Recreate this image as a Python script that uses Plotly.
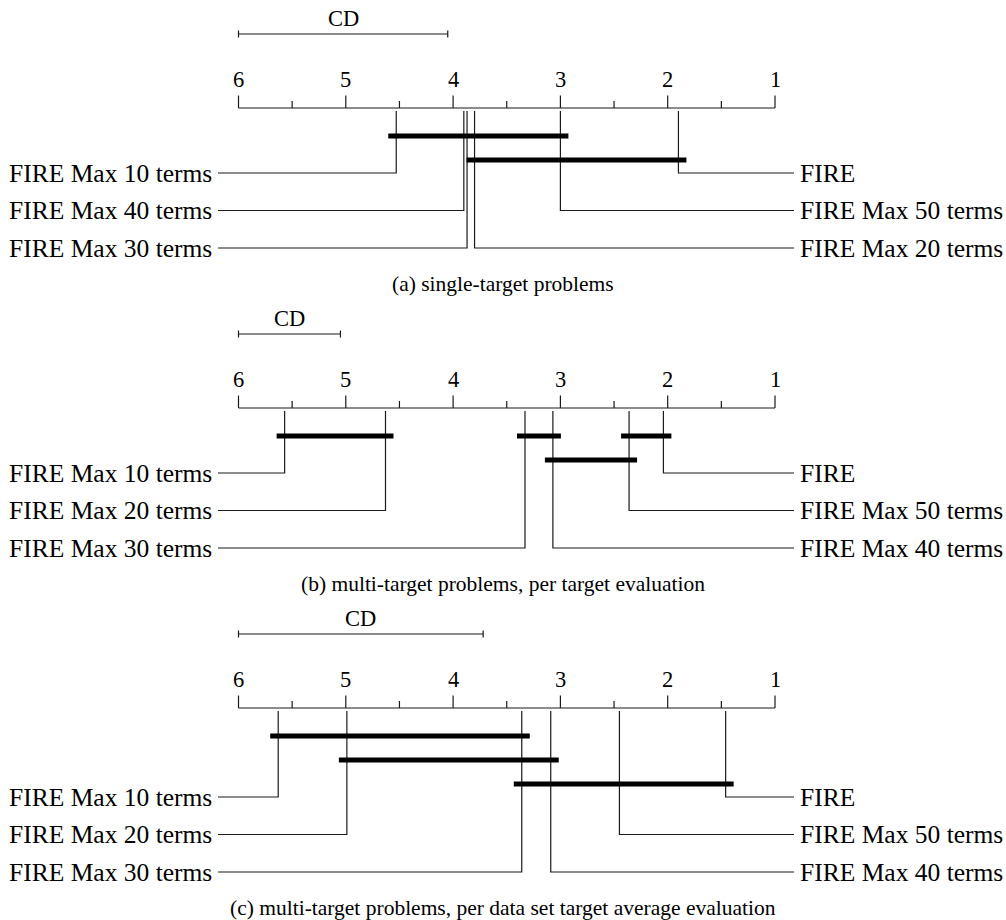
import plotly.graph_objects as go

# ---------------- data ----------------
methods_a = ["FIRE", "FIRE Max 50 terms", "FIRE Max 20 terms",
             "FIRE Max 30 terms", "FIRE Max 40 terms", "FIRE Max 10 terms"]
ranks_a = [1.90, 3.00, 3.80, 3.87, 3.90, 4.53]
cd_a = 1.95
cliques_a = [("FIRE Max 10 terms", "FIRE Max 50 terms"),
             ("FIRE Max 20 terms", "FIRE")]
caption_a = "(a) single-target problems"

methods_b = ["FIRE", "FIRE Max 50 terms", "FIRE Max 40 terms",
             "FIRE Max 30 terms", "FIRE Max 20 terms", "FIRE Max 10 terms"]
ranks_b = [2.04, 2.36, 3.07, 3.33, 4.63, 5.57]
cd_b = 0.95
cliques_b = [("FIRE Max 10 terms", "FIRE Max 20 terms"),
             ("FIRE Max 30 terms", "FIRE Max 40 terms"),
             ("FIRE Max 40 terms", "FIRE Max 50 terms"),
             ("FIRE Max 50 terms", "FIRE")]
caption_b = "(b) multi-target problems, per target evaluation"

methods_c = ["FIRE", "FIRE Max 50 terms", "FIRE Max 40 terms",
             "FIRE Max 30 terms", "FIRE Max 20 terms", "FIRE Max 10 terms"]
ranks_c = [1.46, 2.45, 3.09, 3.36, 4.99, 5.63]
cd_c = 2.28
cliques_c = [("FIRE Max 10 terms", "FIRE Max 30 terms"),
             ("FIRE Max 20 terms", "FIRE Max 40 terms"),
             ("FIRE Max 30 terms", "FIRE")]
caption_c = "(c) multi-target problems, per data set target average evaluation"

major_ticks = [6, 5, 4, 3, 2, 1]
minor_ticks = [5.5, 4.5, 3.5, 2.5, 1.5]

# ---------------- layout constants ----------------
W, H = 1006, 920
PX6 = 238.5          # pixel of rank 6
PPR = 107.3          # pixels per rank unit
X_LEFT = 6 + PX6 / PPR
X_RIGHT = 6 - (W - PX6) / PPR


def px2r(p):
    return 6 - (p - PX6) / PPR


EXT = 8 / PPR        # bar extension beyond end ranks
FONT = "Liberation Serif, Times New Roman, serif"
LABEL_SIZE = 25.5
TICK_SIZE = 22.5
CAP_SIZE = 21.5
LINE_COLOR = "#1a1a1a"

thin_x, thin_y = [], []
bar_x, bar_y = [], []
annotations = []


def add_thin(xs, ys):
    thin_x.extend(xs + [None])
    thin_y.extend(ys + [None])


def panel(T, methods, ranks, cd, cliques, caption):
    axis_y = T + 108
    # CD segment
    y_cd = T + 34
    add_thin([6, 6 - cd], [y_cd, y_cd])
    for e in (6, 6 - cd):
        add_thin([e, e], [y_cd - 3.5, y_cd + 3.5])
    annotations.append(dict(x=6 - cd / 2, y=T + 18, text="CD", showarrow=False,
                            xanchor="center", yanchor="middle",
                            font=dict(family=FONT, size=TICK_SIZE, color="black")))
    # axis
    add_thin([major_ticks[0], major_ticks[-1]], [axis_y, axis_y])
    for t in major_ticks:
        add_thin([t, t], [axis_y, axis_y - 12.5])
        annotations.append(dict(x=t, y=T + 79, text=str(t), showarrow=False,
                                xanchor="center", yanchor="middle",
                                font=dict(family=FONT, size=TICK_SIZE, color="black")))
    for t in minor_ticks:
        add_thin([t, t], [axis_y, axis_y - 7])

    # bars: assign rows greedily
    rank_of = dict(zip(methods, ranks))
    segs = sorted([(rank_of[a], rank_of[b]) for a, b in cliques], key=lambda s: -s[0])
    rows = []
    seg_rows = []
    for lo, hi in segs:
        placed = False
        for i, last in enumerate(rows):
            if hi < last - 1e-9 and lo < last - 1e-9:
                rows[i] = hi
                seg_rows.append(i)
                placed = True
                break
        if not placed:
            rows.append(hi)
            seg_rows.append(len(rows) - 1)
    bar_top = T + 136
    for (lo, hi), ri in zip(segs, seg_rows):
        yb = bar_top + 24 * ri
        bar_x.extend([lo + EXT, hi - EXT, None])
        bar_y.extend([yb, yb, None])
    last_bar = bar_top + 24 * (len(rows) - 1)

    # method labels
    order = sorted(zip(ranks, methods))          # best first
    n = len(order)
    half = n // 2
    right = order[:half]                         # best, top to bottom
    left = sorted(order[half:], key=lambda t: -t[0])  # worst on top
    y0 = last_bar + 13
    sp = 37.5
    for i, (r, m) in enumerate(left):
        yr = y0 + sp * i
        add_thin([r, r, px2r(218)], [axis_y + 3, yr, yr])
        annotations.append(dict(x=px2r(214), y=yr, text=m, showarrow=False,
                                xanchor="right", yanchor="middle",
                                font=dict(family=FONT, size=LABEL_SIZE, color="black")))
    for i, (r, m) in enumerate(right):
        yr = y0 + sp * i
        add_thin([r, r, px2r(794)], [axis_y + 3, yr, yr])
        annotations.append(dict(x=px2r(798), y=yr, text=m, showarrow=False,
                                xanchor="left", yanchor="middle",
                                font=dict(family=FONT, size=LABEL_SIZE, color="black")))
    cap_y = y0 + sp * (max(len(left), len(right)) - 1) + 36
    annotations.append(dict(x=0.5, xref="paper", y=cap_y, text=caption, showarrow=False,
                            xanchor="center", yanchor="middle",
                            font=dict(family=FONT, size=CAP_SIZE, color="black")))


panel(0, methods_a, ranks_a, cd_a, cliques_a, caption_a)
panel(300, methods_b, ranks_b, cd_b, cliques_b, caption_b)
panel(600, methods_c, ranks_c, cd_c, cliques_c, caption_c)

fig = go.Figure()
fig.add_trace(go.Scatter(x=thin_x, y=thin_y, mode="lines",
                         line=dict(color=LINE_COLOR, width=1.2),
                         hoverinfo="skip", showlegend=False))
fig.add_trace(go.Scatter(x=bar_x, y=bar_y, mode="lines",
                         line=dict(color="black", width=5),
                         hoverinfo="skip", showlegend=False))

fig.update_layout(
    width=W, height=H,
    margin=dict(l=0, r=0, t=0, b=0),
    paper_bgcolor="white", plot_bgcolor="white",
    xaxis=dict(range=[X_LEFT, X_RIGHT], visible=False, fixedrange=True),
    yaxis=dict(range=[H, 0], visible=False, fixedrange=True),
    annotations=[dict(a, **({} if "xref" in a else {"xref": "x"}), yref="y") for a in annotations],
    showlegend=False,
)

fig.write_html("out.html", config={"displayModeBar": False},
               post_script="document.body.style.margin='0';")
